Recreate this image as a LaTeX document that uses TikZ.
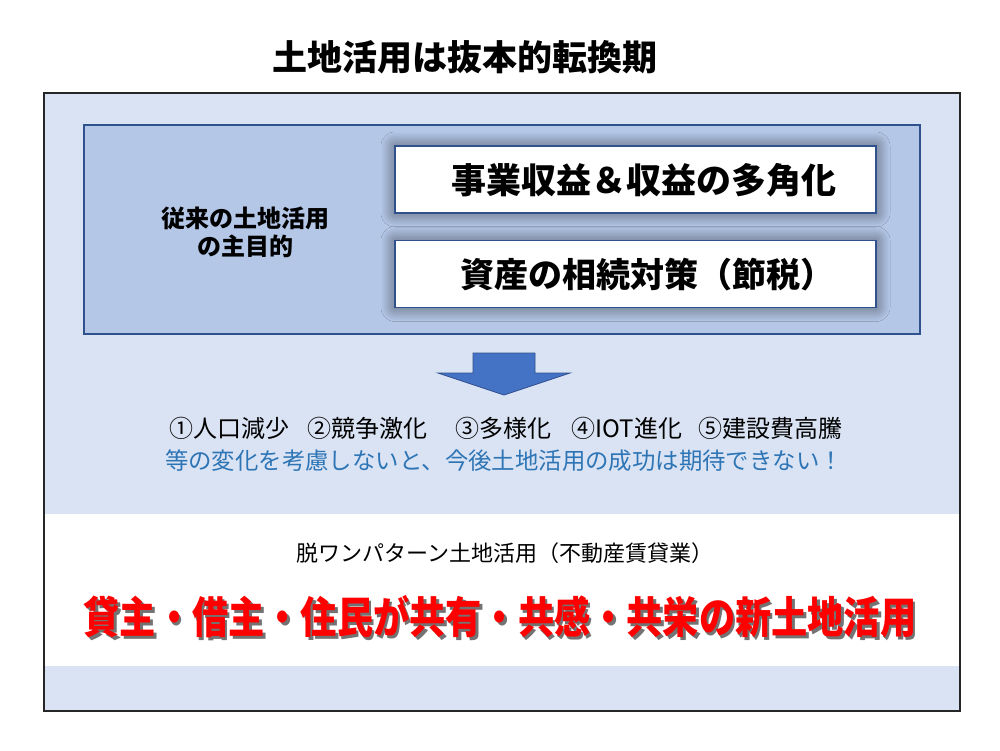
\documentclass[tikz,border=0pt]{standalone}
\usepackage{fontspec}
\newfontfamily\jp{Noto Sans CJK JP}
\usetikzlibrary{shadows.blur}
\definecolor{outerbg}{HTML}{DAE3F3}
\definecolor{innerbg}{HTML}{B4C7E7}
\definecolor{darkblue}{HTML}{2F528F}
\definecolor{arrowblue}{HTML}{4472C4}
\definecolor{textblue}{HTML}{2E75B6}
\newcommand{\shadowtext}[1]{\makebox[0pt][l]{\hspace{2.5pt}\raisebox{-2.5pt}{\color{black!55}#1}}#1}
\begin{document}
\begin{tikzpicture}[x=1pt,y=-1pt,
  txt/.style={inner sep=0pt, font=\jp},
  panel/.style={rectangle, inner sep=0pt, outer sep=0pt},
  goalbox/.style={panel, fill=white, draw=darkblue, line width=1.2pt,
    minimum width=481pt, minimum height=67pt,
    blur shadow={shadow xshift=0pt, shadow yshift=0pt, shadow blur radius=14pt,
      shadow opacity=58, shadow scale=1.0, shadow blur steps=16}},
]
\useasboundingbox (0,0) rectangle (1000,750);
\fill[white] (0,0) rectangle (1000,750);

% title
\node[txt, font=\jp\bfseries\fontsize{35}{40}\selectfont] (title) at (465,57) {土地活用は抜本的転換期};

% outer panel
\node[panel, fill=outerbg, minimum width=916pt, minimum height=618pt] (outer) at (502,402) {};
\node[panel, fill=white, minimum width=914pt, minimum height=152pt] (band) at (502,590) {};
\node[panel, draw=black!85, line width=1.3pt, minimum width=916pt, minimum height=618pt] (outerframe) at (502,402) {};

% inner panel
\node[panel, fill=innerbg, draw=darkblue, line width=1.3pt, minimum width=836pt, minimum height=209pt] (inner) at (502,229.5) {};

\node[txt, align=center, font=\jp\bfseries\fontsize{24}{28}\selectfont] (purpose) at (245,232) {従来の土地活用\\の主目的};

\node[goalbox] (box1) at (635.5,179.5) {};
\node[goalbox] (box2) at (635.5,274) {};
\node[txt, font=\jp\bfseries\fontsize{35}{40}\selectfont] (goal1) at (644,180) {事業収益＆収益の多角化};
\node[txt, font=\jp\bfseries\fontsize{34}{39}\selectfont] (goal2) at (647,275) {資産の相続対策（節税）};

% block arrow
\filldraw[fill=arrowblue, draw=darkblue, line width=0.8pt]
  (473,353) -- (535,353) -- (535,373) -- (570,373) -- (504,395) -- (438,373) -- (473,373) -- cycle;

% change factors
\node[txt, font=\jp\fontsize{24}{28}\selectfont] (factors) at (506,428)
  {①人口減少\hspace{18pt}②競争激化\hspace{28pt}③多様化\hspace{20pt}④IOT進化\hspace{16pt}⑤建設費高騰};
\node[txt, text=textblue, font=\jp\fontsize{23.4}{28}\selectfont] (warning) at (504,461)
  {等の変化を考慮しないと、今後土地活用の成功は期待できない！};

% new land use
\node[txt, font=\jp\fontsize{22}{26}\selectfont] (sub) at (505,553) {脱ワンパターン土地活用（不動産賃貸業）};
\node[txt, text=red, font=\jp\bfseries\fontsize{36.2}{42}\selectfont] (main) at (500,618)
  {\scalebox{1}[1.2]{\shadowtext{貸主・借主・住民が共有・共感・共栄の新土地活用}}};
\end{tikzpicture}
\end{document}
